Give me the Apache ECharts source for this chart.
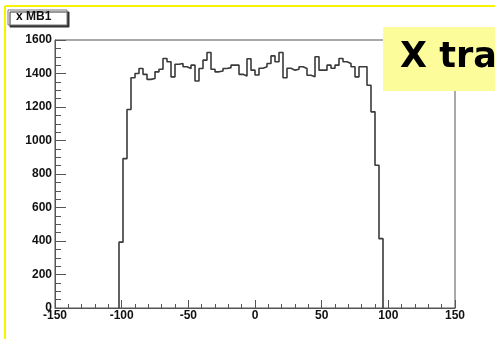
<!DOCTYPE html>
<html>
<head>
<meta charset="utf-8">
<script src="https://cdn.jsdelivr.net/npm/echarts@6/dist/echarts.min.js"></script>
<style>
html,body{margin:0;padding:0;background:#fff;}
#chart{width:495px;height:339px;}
</style>
</head>
<body>
<div id="chart"></div>
<script>
// Histogram: bins of width 3 starting at x = -102
const binStart = -102;
const binWidth = 3;
const counts = [
  393, 892, 1185,
  1375, 1400, 1430, 1395, 1365, 1370, 1410, 1425, 1490, 1470,
  1380, 1455, 1460, 1440, 1430, 1450, 1355, 1430, 1480, 1525,
  1425, 1410, 1415, 1430, 1435, 1450, 1450, 1395, 1385, 1488,
  1420, 1391, 1431, 1440, 1460, 1505, 1470, 1525, 1375, 1431,
  1420, 1425, 1440, 1430, 1390, 1380, 1500, 1420, 1420, 1450,
  1431, 1450, 1490, 1470, 1460, 1440, 1380, 1440, 1440,
  1330, 1171, 852, 414
];
const xTicks = [-150, -100, -50, 0, 50, 100, 150];
const yTicks = [0, 200, 400, 600, 800, 1000, 1200, 1400, 1600];
const titleText = 'x MB1';
const noteText = 'X tra';

const pts = [[binStart, 0]];
for (let i = 0; i < counts.length; i++) {
  pts.push([binStart + i * binWidth, counts[i]]);
}
const endX = binStart + counts.length * binWidth;
pts.push([endX, counts[counts.length - 1]]);
pts.push([endX, 0]);

const chart = echarts.init(document.getElementById('chart'), null, {renderer: 'canvas'});
const lblStyle = {color: '#111', fontWeight: 'bold', fontSize: 12, fontFamily: 'Liberation Sans, Arial, sans-serif', formatter: v => String(v)};
chart.setOption({
  animation: false,
  backgroundColor: '#fff',
  grid: {left: 55, top: 40, right: 40, bottom: 31, show: true, borderColor: '#555', borderWidth: 1, backgroundColor: 'transparent'},
  xAxis: {
    type: 'value', min: xTicks[0], max: xTicks[xTicks.length - 1], interval: 50,
    axisLine: {show: true, onZero: false, lineStyle: {color: '#555', width: 1}},
    axisTick: {show: true, inside: true, length: 8, lineStyle: {color: '#555'}},
    minorTick: {show: true, splitNumber: 5, length: 4, lineStyle: {color: '#555'}},
    splitLine: {show: false},
    axisLabel: Object.assign({margin: 2}, lblStyle)
  },
  yAxis: {
    type: 'value', min: yTicks[0], max: yTicks[yTicks.length - 1], interval: 200,
    axisLine: {show: true, onZero: false, lineStyle: {color: '#555', width: 1}},
    axisTick: {show: true, inside: true, length: 11, lineStyle: {color: '#555'}},
    minorTick: {show: true, splitNumber: 4, length: 6, lineStyle: {color: '#555'}},
    splitLine: {show: false},
    axisLabel: Object.assign({margin: 3}, lblStyle)
  },
  series: [{
    type: 'line', step: 'end', symbol: 'none', data: pts,
    lineStyle: {color: '#3a3a3a', width: 1.6}
  }],
  graphic: [
    {type: 'line', z: 100, shape: {x1: 5, y1: 6, x2: 495, y2: 6}, style: {stroke: '#f5f500', lineWidth: 2}},
    {type: 'line', z: 100, shape: {x1: 5, y1: 6, x2: 5, y2: 339}, style: {stroke: '#f5f500', lineWidth: 2}},
    {type: 'rect', z: 100, shape: {x: 8, y: 10, width: 59, height: 15},
      style: {fill: '#fff', stroke: '#777', lineWidth: 1, shadowColor: '#333', shadowOffsetX: 2, shadowOffsetY: 2, shadowBlur: 0}},
    {type: 'text', z: 101, x: 16, y: 11, style: {text: titleText, fill: '#111', font: 'bold 12px "Liberation Sans", Arial, sans-serif'}},
    {type: 'rect', z: 100, shape: {x: 383, y: 27, width: 112, height: 64}, style: {fill: '#fcfc9a'}},
    {type: 'text', z: 101, x: 400, y: 40, style: {text: noteText, fill: '#000', font: 'bold 35px "DejaVu Sans", sans-serif'}}
  ]
});
</script>
</body>
</html>
